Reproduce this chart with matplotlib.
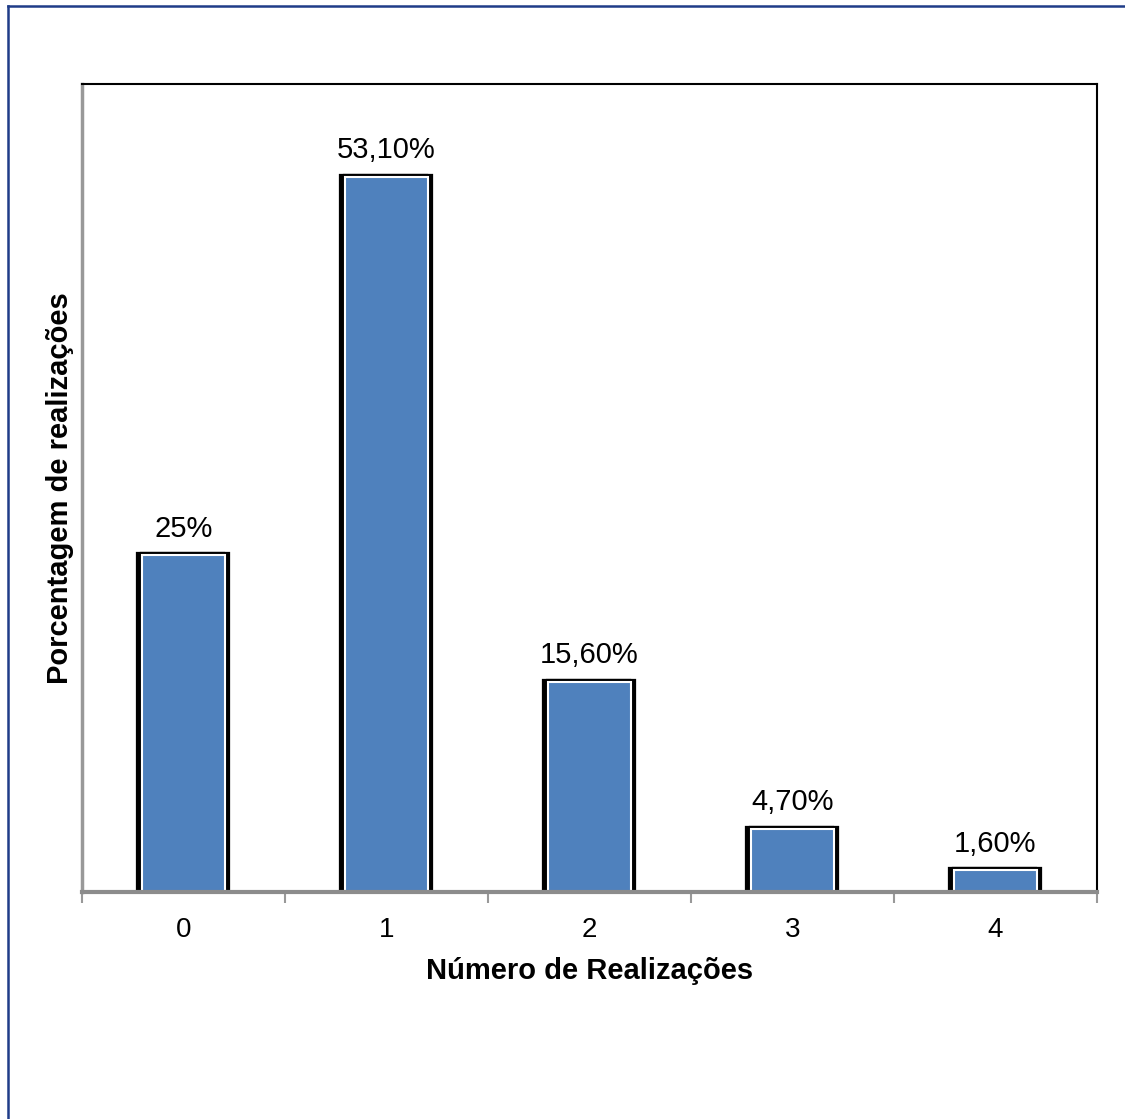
import matplotlib
matplotlib.use("Agg")
import matplotlib.pyplot as plt
from matplotlib import patheffects as pe
from matplotlib.lines import Line2D

categories = ["0", "1", "2", "3", "4"]
percentages = [25.0, 53.1, 15.6, 4.7, 1.6]
value_labels = ["25%", "53,10%", "15,60%", "4,70%", "1,60%"]

plt.rcParams["font.family"] = ["Liberation Sans", "DejaVu Sans"]

W, H = 1125, 1119
fig = plt.figure(figsize=(W / 100, H / 100), dpi=100)
ax = fig.add_axes([82 / W, 1 - 892 / H, (1097 - 82) / W, (892 - 84) / H])

x = list(range(len(categories)))
bars = ax.bar(x, percentages, width=0.41, color="#4f81bd",
              edgecolor="white", linewidth=1.5, zorder=2)
for b in bars:
    b.set_path_effects([
        pe.Stroke(linewidth=4.5, foreground="black", offset=(-2.0, 0)),
        pe.Stroke(linewidth=4.5, foreground="black", offset=(1.0, 0)),
        pe.Normal(),
    ])

for xi, v, lab in zip(x, percentages, value_labels):
    ax.annotate(lab, (xi, v), xytext=(0, 9), textcoords="offset points",
                ha="center", va="bottom", fontsize=21)

ax.set_xlim(-0.5, len(categories) - 0.5)
ax.set_ylim(0, 60)
ax.set_yticks([])
ax.set_xticks(x)
ax.set_xticklabels(categories, fontsize=20)
ax.set_xticks([i - 0.5 for i in range(len(categories) + 1)], minor=True)
ax.tick_params(axis="x", which="major", length=0, pad=18)
ax.tick_params(axis="x", which="minor", length=8, width=1.5, color="#999999")

ax.set_xlabel("Número de Realizações", fontsize=21, fontweight="bold", labelpad=10)
ax.set_ylabel("Porcentagem de realizações", fontsize=21, fontweight="bold", labelpad=6)

for side in ("top", "right"):
    ax.spines[side].set_color("black")
    ax.spines[side].set_linewidth(1.5)
ax.spines["left"].set_color("#999999")
ax.spines["left"].set_linewidth(2.5)
ax.spines["bottom"].set_color("#8c8c8c")
ax.spines["bottom"].set_linewidth(3)
ax.spines["bottom"].set_zorder(3)

# outer frame around the chart area
frame_color = "#1f3c88"
fig.add_artist(Line2D([7.5 / W, 7.5 / W], [0, 1 - 6 / H], transform=fig.transFigure,
                      color=frame_color, linewidth=1.8))
fig.add_artist(Line2D([7.5 / W, 1], [1 - 6 / H, 1 - 6 / H], transform=fig.transFigure,
                      color=frame_color, linewidth=1.8))

fig.savefig("out.png", dpi=100, facecolor="white")
